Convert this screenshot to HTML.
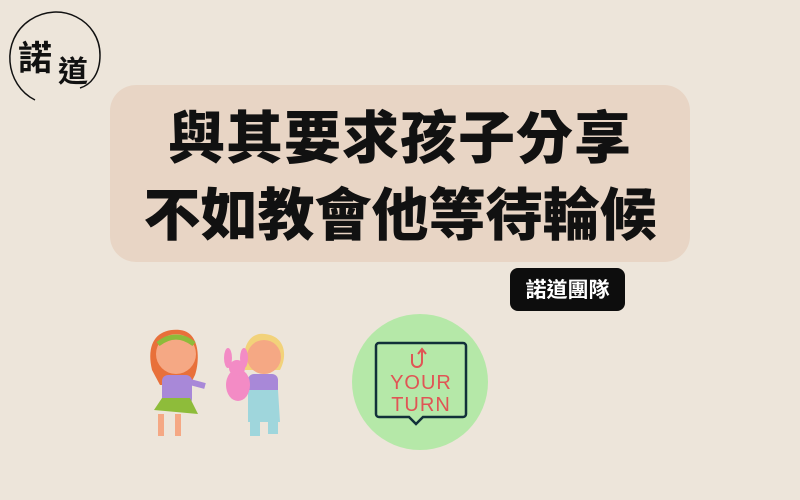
<!DOCTYPE html>
<html><head><meta charset="utf-8"><style>
html,body{margin:0;padding:0}
body{width:800px;height:500px;background:#ede5da;position:relative;overflow:hidden;font-family:"Liberation Sans","Noto Sans CJK TC",sans-serif}
.title{position:absolute;left:110px;top:85px;width:580px;height:177px;background:#e8d5c5;border-radius:26px}
.line{position:absolute;left:0;width:100%;text-align:center;font-weight:900;font-size:57px;color:#111;line-height:60px;font-family:"Noto Sans CJK TC","WenQuanYi Zen Hei",sans-serif}
.badge{position:absolute;left:510px;top:268px;width:115px;height:43px;background:#0d0d0d;border-radius:8px;color:#fff;font-weight:700;font-size:21px;line-height:43px;text-align:center;font-family:"Noto Sans CJK TC",sans-serif}
</style></head><body>
<svg style="position:absolute;left:0;top:0" width="120" height="110">
<path d="M35 100 C5 85 0 40 30 20 C60 0 100 20 100 55 C100 75 90 85 80 88" fill="none" stroke="#111" stroke-width="1.5"/>
<text x="18" y="70" font-size="34" font-family="Noto Sans CJK TC,sans-serif" font-weight="700" fill="#111">諾</text>
<text x="58" y="82" font-size="30" font-family="Noto Sans CJK TC,sans-serif" font-weight="700" fill="#111">道</text>
</svg>
<div class="title">
<div class="line" style="top:19px;letter-spacing:1px">與其要求孩子分享</div>
<div class="line" style="top:96px">不如教會他等待輪候</div>
</div>
<div class="badge">諾道團隊</div>
<svg style="position:absolute;left:140px;top:310px" width="170" height="140">
<path d="M12 60 C5 30 20 18 40 20 C60 22 60 50 55 65 L50 75 L20 75Z" fill="#e8703a"/>
<circle cx="36" cy="44" r="20" fill="#f5a884"/>
<path d="M18 34 Q36 20 54 34" stroke="#8dbb3a" stroke-width="5" fill="none"/>
<rect x="22" y="65" width="30" height="30" rx="6" fill="#a888d8"/>
<path d="M14 100 L22 88 L50 88 L58 104Z" fill="#8ebc3a"/>
<path d="M50 72 L65 76" stroke="#a888d8" stroke-width="6"/>
<rect x="18" y="104" width="6" height="22" fill="#f5a884"/><rect x="35" y="104" width="6" height="22" fill="#f5a884"/>
<path d="M105 60 C100 30 115 22 125 24 C145 26 148 45 140 60Z" fill="#f2d27a"/>
<circle cx="124" cy="47" r="17" fill="#f5a884"/>
<rect x="108" y="64" width="30" height="30" rx="6" fill="#a888d8"/>
<path d="M108 80 L138 80 L140 112 L108 112Z" fill="#9fd6dc"/>
<rect x="110" y="110" width="10" height="16" fill="#9fd6dc"/><rect x="128" y="108" width="10" height="16" fill="#9fd6dc"/>
<ellipse cx="98" cy="75" rx="12" ry="16" fill="#f38bc5"/>
<circle cx="97" cy="58" r="8" fill="#f38bc5"/>
<ellipse cx="88" cy="48" rx="4" ry="10" fill="#f38bc5"/><ellipse cx="104" cy="48" rx="4" ry="10" fill="#f38bc5"/>
</svg>
<svg style="position:absolute;left:350px;top:312px" width="140" height="140">
<circle cx="70" cy="70" r="68" fill="#b5e8a8"/>
<path d="M29 31 h84 a3 3 0 0 1 3 3 v68 a3 3 0 0 1 -3 3 h-40 l-7 7 l-7 -7 h-30 a3 3 0 0 1 -3 -3 v-68 a3 3 0 0 1 3 -3z" fill="none" stroke="#12303a" stroke-width="2.5"/>
<path d="M62 42 v8 a5 5 0 0 0 10 0 v-12 M68 42 l4 -5 l4 5" fill="none" stroke="#e05555" stroke-width="2"/>
<text x="71" y="77" text-anchor="middle" font-size="20" fill="#e05555" font-family="Liberation Sans,sans-serif" letter-spacing="1">YOUR</text>
<text x="71" y="99" text-anchor="middle" font-size="20" fill="#e05555" font-family="Liberation Sans,sans-serif" letter-spacing="1">TURN</text>
</svg>
</body></html>
